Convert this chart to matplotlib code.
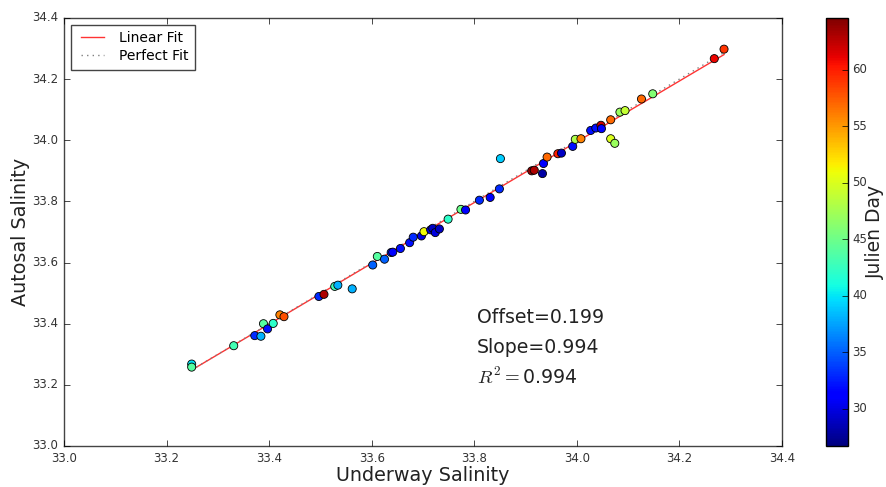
import matplotlib
matplotlib.use("Agg")
import matplotlib.pyplot as plt
import numpy as np

plt.style.use("classic")
plt.rcParams["font.family"] = ["DejaVu Sans"]
plt.rcParams["mathtext.fontset"] = "cm"

underway = [33.249, 33.249, 33.331, 33.372, 33.384, 33.389, 33.397, 33.408, 33.421, 33.429,
            33.497, 33.507, 33.528, 33.534, 33.562, 33.602, 33.611, 33.625, 33.638, 33.641,
            33.656, 33.674, 33.681, 33.697, 33.702, 33.715, 33.719, 33.724, 33.732, 33.749,
            33.774, 33.783, 33.810, 33.831, 33.849, 33.851, 33.912, 33.917, 33.933, 33.935,
            33.942, 33.963, 33.970, 33.992, 33.997, 34.008, 34.027, 34.037, 34.047, 34.048,
            34.066, 34.066, 34.074, 34.084, 34.094, 34.126, 34.148, 34.268, 34.287]
autosal = [33.268, 33.258, 33.328, 33.361, 33.359, 33.400, 33.383, 33.401, 33.429, 33.423,
           33.489, 33.496, 33.522, 33.526, 33.514, 33.592, 33.620, 33.611, 33.633, 33.634,
           33.646, 33.665, 33.683, 33.687, 33.701, 33.707, 33.712, 33.698, 33.710, 33.742,
           33.774, 33.772, 33.804, 33.813, 33.841, 33.940, 33.900, 33.902, 33.891, 33.924,
           33.945, 33.956, 33.958, 33.980, 34.003, 34.005, 34.032, 34.040, 34.049, 34.038,
           34.067, 34.005, 33.990, 34.092, 34.097, 34.135, 34.152, 34.267, 34.298]
julien_day = [40, 44, 43, 33, 38, 44, 32, 42, 56, 58,
              33, 63, 43, 38, 38, 35, 44, 35, 33, 31,
              32, 32, 33, 30, 51, 30, 29, 30, 29, 42,
              45, 31, 33, 31, 33, 39, 64, 63, 28, 31,
              57, 60, 29, 32, 48, 56, 32, 32, 62, 31,
              57, 50, 47, 47, 49, 57, 46, 61, 59]
offset = 0.199
slope = 0.994
r2 = 0.994

x = np.array(underway)
y = np.array(autosal)
xx = np.array([x.min(), x.max()])

fig = plt.figure(figsize=(8.86, 4.87), dpi=100, facecolor="white")
ax = fig.add_axes([0.0722, 0.0842, 0.8104, 0.8789])
cax = fig.add_axes([0.932, 0.0842, 0.025, 0.8789])

ax.plot(xx, slope * xx + offset, color="red", lw=1, alpha=0.8, label="Linear Fit")
ax.plot(xx, xx, color="gray", lw=1, ls=":", label="Perfect Fit")
sc = ax.scatter(x, y, c=julien_day, cmap="jet", vmin=26.7, vmax=64.6, s=34,
                edgecolors="black", linewidths=0.6, zorder=3)

ax.set_xlim(33.0, 34.4)
ax.set_ylim(33.0, 34.4)
ax.set_xticks(np.arange(33.0, 34.41, 0.2))
ax.set_yticks(np.arange(33.0, 34.41, 0.2))
ax.tick_params(labelsize=8.5, labelcolor="#333333")
for s in ax.spines.values():
    s.set_edgecolor("#444444")
ax.set_xlabel("Underway Salinity", fontsize=13.8, labelpad=1, color="#222222")
ax.set_ylabel("Autosal Salinity", fontsize=13.8, labelpad=2, color="#222222")

leg = ax.legend(loc="upper left", fontsize=10, handlelength=2.2, numpoints=2,
                fancybox=False, borderpad=0.45, labelspacing=0.3)
leg.get_frame().set_edgecolor("#444444")

ax.text(33.805, 33.42, "Offset=%.3f" % offset, fontsize=13.6, va="center", color="#222222")
ax.text(33.805, 33.322, "Slope=%.3f" % slope, fontsize=13.6, va="center", color="#222222")
ax.text(33.805, 33.224, r"$R^2=$" + "%.3f" % r2, fontsize=13.6, va="center", color="#222222")

cb = fig.colorbar(sc, cax=cax)
cb.set_ticks([30, 35, 40, 45, 50, 55, 60])
cb.ax.tick_params(labelsize=8.5, pad=3, labelcolor="#333333")
cb.set_label("Julien Day", fontsize=13.5, labelpad=-1, color="#222222")

fig.savefig("out.png", dpi=100, facecolor="white")
